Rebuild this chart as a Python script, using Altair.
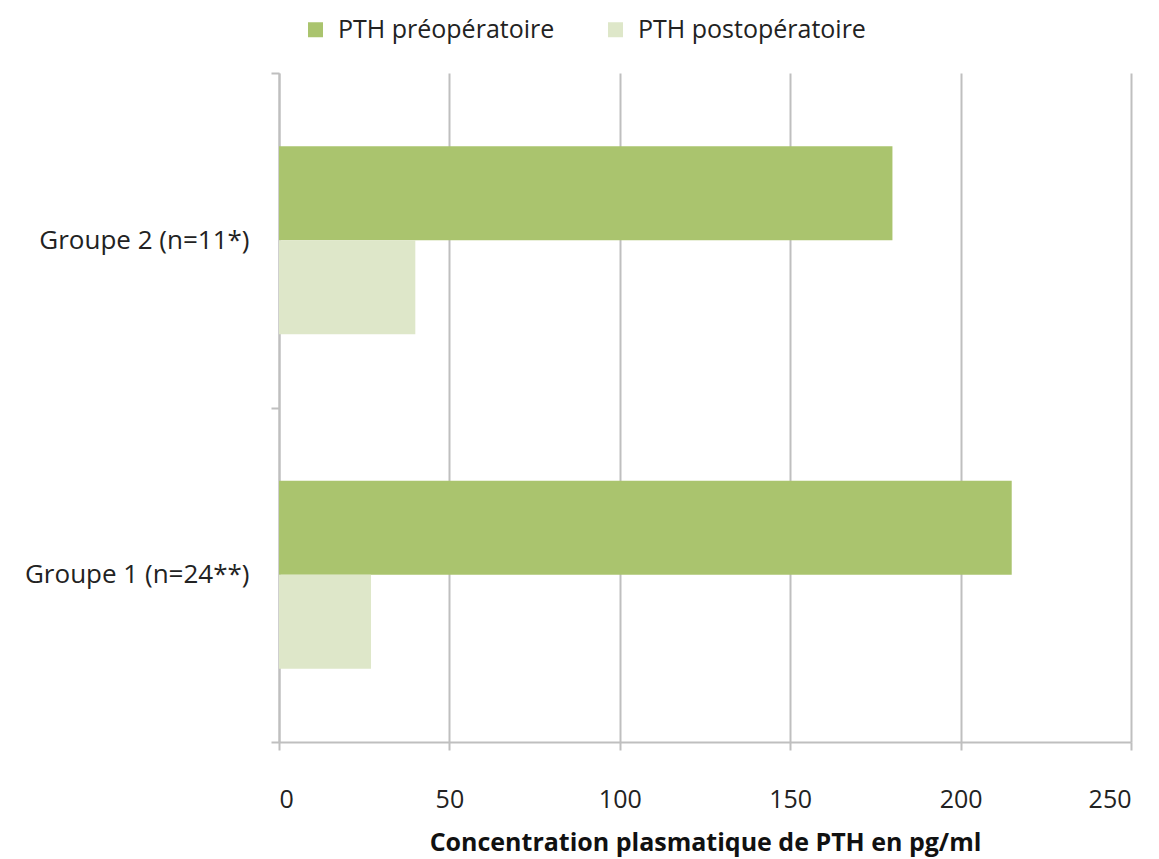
import altair as alt
import pandas as pd

groups = ["Groupe 2 (n=11*)", "Groupe 1 (n=24**)"]
series = ["PTH préopératoire", "PTH postopératoire"]
pre_values = [180, 215]
post_values = [40, 27]
colors = ["#AAC46E", "#DEE7C9"]

rows = []
for g, a, b in zip(groups, pre_values, post_values):
    rows.append({"groupe": g, "serie": series[0], "valeur": a})
    rows.append({"groupe": g, "serie": series[1], "valeur": b})
df = pd.DataFrame(rows)

FONT = "Open Sans"

chart = alt.Chart(df).mark_bar().encode(
    y=alt.Y("groupe:N", sort=groups,
            scale=alt.Scale(paddingInner=0, paddingOuter=0),
            axis=alt.Axis(title=None, tickBand="extent", grid=False,
                          domainColor="#BFBFBF", tickColor="#BFBFBF",
                          domainWidth=2, tickWidth=2, tickSize=8,
                          labelFont=FONT, labelFontSize=26, labelColor="#222222",
                          labelPadding=22, labelLimit=400)),
    yOffset=alt.YOffset("serie:N", sort=series,
                        scale=alt.Scale(paddingOuter=0.78, paddingInner=0)),
    x=alt.X("valeur:Q",
            scale=alt.Scale(domain=[0, 250], nice=False),
            axis=alt.Axis(title="Concentration plasmatique de PTH en pg/ml",
                          values=[0, 50, 100, 150, 200, 250],
                          grid=True, gridColor="#BFBFBF", gridWidth=2,
                          domainColor="#BFBFBF", tickColor="#BFBFBF",
                          domainWidth=2, tickWidth=2, tickSize=8,
                          labelFont=FONT, labelFontSize=25, labelColor="#222222",
                          labelPadding=37,
                          titleFont=FONT, titleFontSize=25, titleFontWeight="bold",
                          titleColor="#111111", titlePadding=18)),
    color=alt.Color("serie:N", sort=series,
                    scale=alt.Scale(domain=series, range=colors),
                    legend=alt.Legend(title=None, orient="none", direction="horizontal",
                                      legendX=24, legendY=-56,
                                      symbolType="square", symbolSize=225,
                                      symbolStrokeWidth=0, labelLimit=400,
                                      labelFont=FONT, labelFontSize=25,
                                      labelColor="#222222", columnPadding=48,
                                      labelOffset=10)),
).properties(
    width=852, height=669,
    autosize=alt.AutoSizeParams(type="none"),
    padding={"left": 271, "top": 65, "right": 20, "bottom": 120},
).configure_view(stroke=None)

chart.save("out.html", embed_options={"renderer": "svg", "actions": False})
